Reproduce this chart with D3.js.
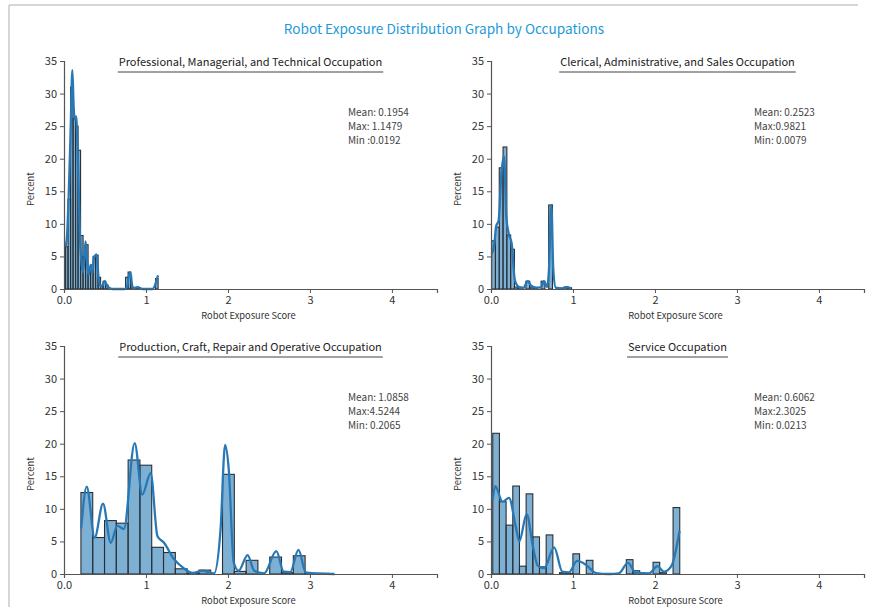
<!DOCTYPE html>
<html>
<head>
<meta charset="utf-8">
<script src="https://cdn.jsdelivr.net/npm/d3@7"></script>
<style>
    body { margin: 0; background: #fff; }
    text { font-family: "Noto Sans CJK KR", "Noto Sans", sans-serif; }
</style>
</head>
<body>
<svg id="fig" width="869" height="607"></svg>
<script>
/** Chart data **/
var figTitle = "Robot Exposure Distribution Graph by Occupations";

var occupations = [
    "Professional, Managerial, and Technical Occupation",
    "Clerical, Administrative, and Sales Occupation",
    "Production, Craft, Repair and Operative Occupation",
    "Service Occupation"
];

var statLines = [
    ["Mean: 0.1954", "Max: 1.1479", "Min :0.0192"],
    ["Mean: 0.2523", "Max:0.9821", "Min: 0.0079"],
    ["Mean: 1.0858", "Max:4.5244", "Min: 0.2065"],
    ["Mean: 0.6062", "Max:2.3025", "Min: 0.0213"]
];

// histogram range of each occupation (min, max of scores)
var binRanges = [[0.0192, 1.1479], [0.0079, 0.9821], [0.2065, 4.5244], [0.0213, 2.3025]];

// percent per bin
var profBins = [6.5, 13.8, 31.0, 26.2, 25.0, 21.3, 8.2, 5.0, 6.8, 2.3, 3.7, 5.0, 5.2,
                1.8, 0.4, 1.2, 0.6, 0.1, 0, 0, 0, 0, 0, 0, 1.8, 2.6, 0.3, 0.1, 0.2,
                0.2, 0, 0, 0, 0, 0, 0, 1.6];
var clerBins = [7.4, 9.5, 18.6, 21.8, 8.3, 6.1, 0.3, 0.3, 0, 1.2, 0.3, 0.2, 0, 1.2,
                0, 12.9, 0, 0.1, 0.1, 0.3, 0.2];
var prodBins = [12.5, 5.6, 8.2, 7.8, 17.5, 16.7, 4.1, 3.3, 0.8, 0.1, 0.6, 0, 15.3, 0.4,
                2.1, 0, 2.6, 0.2, 2.8, 0.05, 0.1, 0, 0, 0, 0, 0, 0, 0, 0, 0];
var servBins = [21.6, 11.1, 7.5, 13.5, 1.2, 12.3, 5.7, 1.1, 6.0, 0, 0.2, 0.1, 3.1, 0,
                2.1, 0, 0, 0, 0, 0, 2.2, 0.5, 0, 0, 1.8, 0.2, 0, 10.2];

// density curves, [score, percent]
var profKde = [[0.019, 6.5], [0.035, 7.8], [0.055, 13.5], [0.08, 24], [0.102, 33.6],
               [0.118, 28], [0.13, 26], [0.148, 26.5], [0.165, 22], [0.18, 15],
               [0.195, 8], [0.21, 4.5], [0.232, 2.6], [0.25, 5], [0.263, 7.3],
               [0.28, 4.5], [0.3, 2.2], [0.325, 3.7], [0.345, 2.5], [0.365, 4.8],
               [0.397, 5.3], [0.42, 2], [0.445, 0.4], [0.47, 0.6], [0.498, 1.2],
               [0.525, 0.5], [0.56, 0.1], [0.6, 0], [0.74, 0], [0.77, 0.4],
               [0.795, 2.2], [0.812, 2.6], [0.83, 0.6], [0.85, 0.1], [0.88, 0.25],
               [0.9, 0.3], [0.93, 0.1], [0.96, 0], [1.08, 0], [1.11, 0.6],
               [1.135, 1.6], [1.148, 2.1]];
var clerKde = [[0.008, 5.4], [0.037, 6.6], [0.065, 9.7], [0.093, 10.5], [0.126, 17.6],
               [0.159, 20.4], [0.187, 11], [0.22, 8.3], [0.252, 7], [0.289, 1.5],
               [0.33, 0.4], [0.39, 0.1], [0.45, 1.2], [0.49, 0.5], [0.553, 0.2],
               [0.614, 0.3], [0.646, 1.2], [0.683, 0.3], [0.707, 3], [0.736, 12.9],
               [0.76, 3], [0.79, 0.2], [0.88, 0.1], [0.92, 0.3], [0.98, 0.1]];
var prodKde = [[0.21, 7.0], [0.277, 13.4], [0.374, 5.6], [0.476, 10.8], [0.57, 4.8],
               [0.65, 7.4], [0.73, 6.9], [0.862, 20.1], [0.955, 12.2], [1.057, 15.5],
               [1.14, 5.8], [1.22, 4.8], [1.34, 2.3], [1.46, 0.9], [1.57, 0.15],
               [1.69, 0.5], [1.83, 0.1], [1.91, 6.9], [1.965, 19.8], [2.01, 16],
               [2.07, 1.8], [2.13, 0.5], [2.24, 2.9], [2.32, 0.5], [2.44, 0.1],
               [2.59, 3.5], [2.68, 0.35], [2.76, 0.3], [2.86, 3.7], [2.95, 0.25],
               [3.13, 0.05], [3.3, 0]];
var servKde = [[0.021, 11.4], [0.052, 13.5], [0.14, 11.1], [0.22, 11.7], [0.30, 7.4],
               [0.345, 5], [0.435, 9.2], [0.51, 4.3], [0.57, 1.3], [0.65, 0.9],
               [0.77, 4.1], [0.87, 0.35], [0.95, 0.25], [1.05, 2.0], [1.16, 1.4],
               [1.28, 0.15], [1.44, 0], [1.56, 0.1], [1.67, 1.7], [1.77, 0.15],
               [1.93, 0.1], [2.03, 1.2], [2.11, 0.35], [2.2, 1.2], [2.3, 6.6]];

var allBins = [profBins, clerBins, prodBins, servBins];
var allKde  = [profKde, clerKde, prodKde, servKde];

var xTicks = [0, 1, 2, 3, 4];
var xTickLabels = ["0.0", "1", "2", "3", "4"];
var yTicks = [0, 5, 10, 15, 20, 25, 30, 35];


/**
 * Draws the whole figure.
 */
function drawFigure()
{
    var svg = d3.select("#fig");

    var chart_width = 373;
    var chart_height = 228;
    var col_x = [64, 491];
    var row_y = [61, 346];
    var stat_x = [284, 263];            // notes offset from the axis, per column

    var color_title = '#1e9ad8';
    var color_text  = '#333';

    // light frame of the figure
    svg.append("line")
        .attr("x1", 9).attr("y1", 5).attr("x2", 858).attr("y2", 5)
        .style("stroke", "#c8c8c8").style("stroke-width", 1.5);
    svg.append("line")
        .attr("x1", 9).attr("y1", 5).attr("x2", 9).attr("y2", 607)
        .style("stroke", "#c8c8c8").style("stroke-width", 1.5);

    svg.append("text")
        .attr("x", 444)
        .attr("y", 34)
        .attr("text-anchor", "middle")
        .style("font-size", "13.6px")
        .style("fill", color_title)
        .text(figTitle);

    for (var p = 0; p < 4; p++)
    {
        var x0 = col_x[p % 2];
        var y0 = row_y[Math.floor(p / 2)];
        drawPanel(svg, p, x0, y0, chart_width, chart_height, stat_x[p % 2], color_text);
    }
}


/**
 * Draws one histogram panel with its density curve.
 */
function drawPanel(svg, p, x0, y0, w, h, statX, color_text)
{
    var g = svg.append("g")
        .attr("transform", "translate(" + x0 + "," + y0 + ")");

    var xScale = d3.scaleLinear()
        .domain([0, 4.55])
        .range([0, w]);

    var yScale = d3.scaleLinear()
        .domain([0, 35])
        .range([h, 0]);

    // bin edges from the score range
    var bins = allBins[p];
    var lo = binRanges[p][0];
    var step = (binRanges[p][1] - lo) / bins.length;
    var binData = bins.map(function(v, i) {
        return { x0: lo + i * step, x1: lo + (i + 1) * step, value: v };
    }).filter(function(d) { return d.value > 0; });

    g.selectAll("rect.bar")
        .data(binData)
        .enter()
        .append("rect")
        .attr("class", "bar")
        .attr("x", function(d) { return xScale(d.x0); })
        .attr("y", function(d) { return yScale(d.value); })
        .attr("width", function(d) { return xScale(d.x1) - xScale(d.x0); })
        .attr("height", function(d) { return h - yScale(d.value); })
        .style("fill", "rgba(31,119,180,0.58)")
        .style("stroke", "#2b2f33")
        .style("stroke-width", 1.1);

    var line = d3.line()
        .x(function(d) { return xScale(d[0]); })
        .y(function(d) { return yScale(d[1]); })
        .curve(d3.curveMonotoneX);

    g.append("path")
        .datum(allKde[p])
        .attr("d", line)
        .style("fill", "none")
        .style("stroke", "#2878b5")
        .style("stroke-width", 2.3)
        .style("stroke-linejoin", "round");

    // axes
    var xAxis = d3.axisBottom(xScale)
        .tickValues(xTicks)
        .tickFormat(function(d, i) { return xTickLabels[i]; })
        .tickSizeOuter(0)
        .tickSize(4);

    var yAxis = d3.axisLeft(yScale)
        .tickValues(yTicks)
        .tickSizeOuter(0)
        .tickSize(4);

    var gx = g.append("g")
        .attr("transform", "translate(0," + h + ")")
        .call(xAxis);

    var gy = g.append("g")
        .call(yAxis);

    [gx, gy].forEach(function(ax) {
        ax.select(".domain").style("stroke", "#555").style("stroke-width", 1.2);
        ax.selectAll(".tick line").style("stroke", "#555");
        ax.selectAll(".tick text")
            .style("font-size", "11px")
            .style("fill", color_text)
            .style("font-family", '"Noto Sans CJK KR", "Noto Sans", sans-serif');
    });

    // axis labels
    g.append("text")
        .attr("x", w / 2 - 2)
        .attr("y", h + 30)
        .attr("text-anchor", "middle")
        .style("font-size", "9.3px")
        .style("fill", color_text)
        .text("Robot Exposure Score");

    g.append("text")
        .attr("transform", "translate(-30," + (h / 2 + 14) + ") rotate(-90)")
        .attr("text-anchor", "middle")
        .style("font-size", "9.5px")
        .style("fill", color_text)
        .text("Percent");

    // underlined occupation title
    var title = g.append("text")
        .attr("x", w / 2)
        .attr("y", 5)
        .attr("text-anchor", "middle")
        .style("font-size", "11px")
        .style("fill", "#222")
        .text(occupations[p]);

    var bb = title.node().getBBox();
    g.append("line")
        .attr("x1", bb.x - 1).attr("x2", bb.x + bb.width + 1)
        .attr("y1", 11).attr("y2", 11)
        .style("stroke", "#444")
        .style("stroke-width", 1.2);

    // mean / max / min notes
    g.selectAll("text.stat")
        .data(statLines[p])
        .enter()
        .append("text")
        .attr("class", "stat")
        .attr("x", statX)
        .attr("y", function(d, i) { return 55 + i * 14; })
        .style("font-size", "10px")
        .style("fill", "#444")
        .text(function(d) { return d; });
}

drawFigure();
</script>
</body>
</html>
